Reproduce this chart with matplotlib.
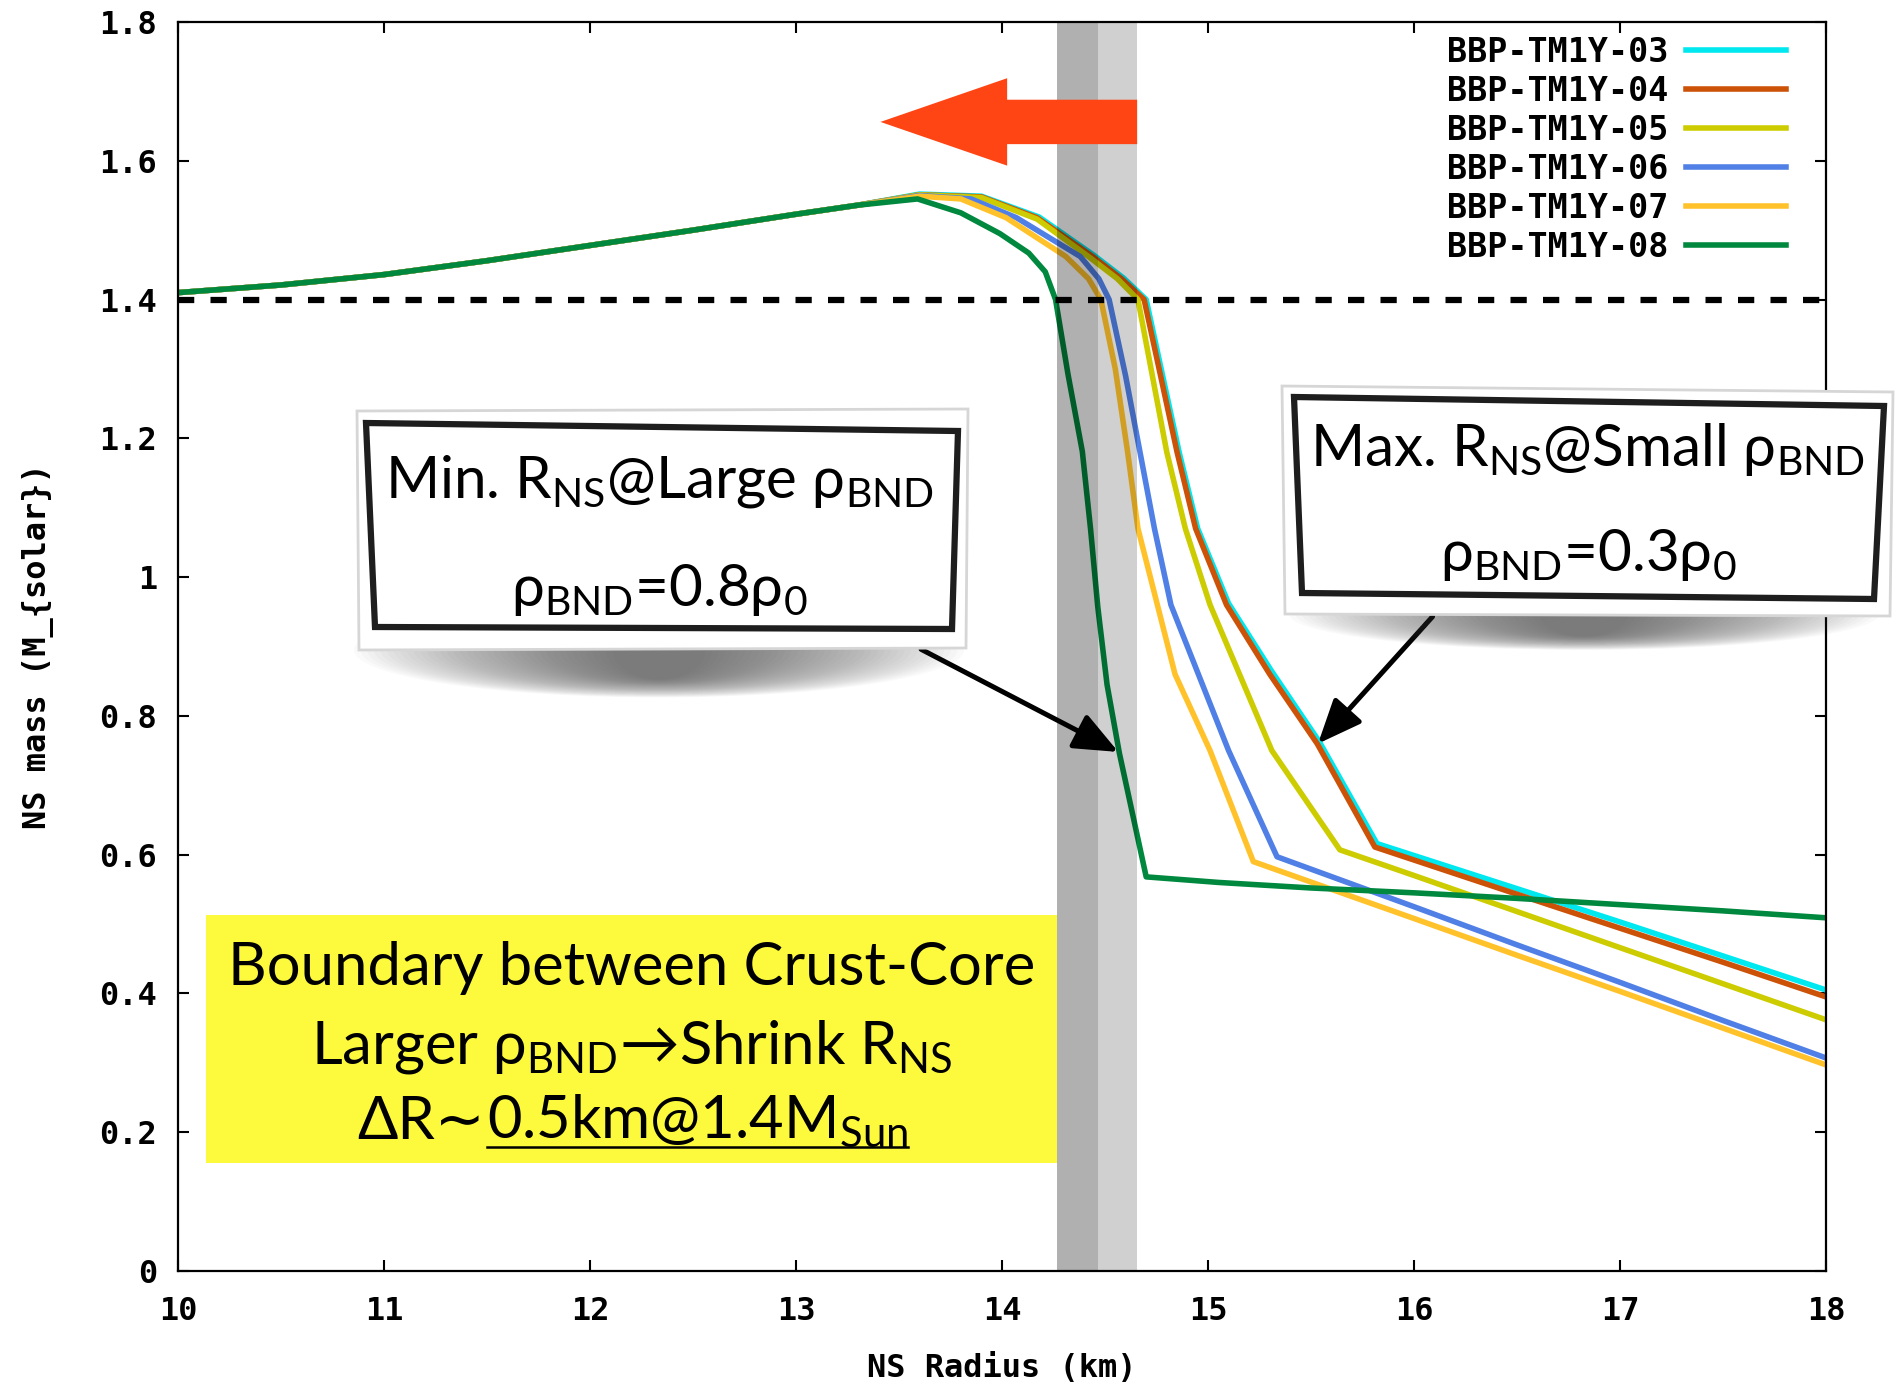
import matplotlib
matplotlib.use('Agg')
import matplotlib.pyplot as plt
from matplotlib.patches import Polygon, Ellipse, Rectangle
from matplotlib.ticker import FuncFormatter

# mass-radius curves (R in km, M in M_solar)
r_rise = [10.0, 10.5, 11.0, 11.5, 12.0, 12.5, 13.0, 13.3]
m_rise = [1.410, 1.421, 1.436, 1.456, 1.478, 1.500, 1.523, 1.536]

r_03 = r_rise + [13.6, 13.9, 14.18, 14.45, 14.59, 14.70, 14.78, 14.86, 14.95, 15.10, 15.31, 15.54, 15.82, 16.5, 17.0, 17.5, 18.0]
m_03 = m_rise + [1.552, 1.549, 1.519, 1.463, 1.431, 1.400, 1.290, 1.180, 1.070, 0.962, 0.864, 0.763, 0.616, 0.551, 0.503, 0.454, 0.405]

r_04 = r_rise + [13.6, 13.9, 14.17, 14.44, 14.58, 14.69, 14.77, 14.85, 14.94, 15.09, 15.30, 15.53, 15.81, 16.5, 17.0, 17.5, 18.0]
m_04 = m_rise + [1.551, 1.548, 1.518, 1.462, 1.430, 1.400, 1.290, 1.180, 1.070, 0.960, 0.860, 0.760, 0.611, 0.543, 0.494, 0.445, 0.395]

r_05 = r_rise + [13.6, 13.9, 14.17, 14.42, 14.56, 14.66, 14.73, 14.80, 14.89, 15.01, 15.31, 15.64, 16.0, 16.5, 17.0, 17.5, 18.0]
m_05 = m_rise + [1.551, 1.547, 1.516, 1.462, 1.430, 1.400, 1.290, 1.180, 1.070, 0.960, 0.750, 0.607, 0.570, 0.518, 0.466, 0.414, 0.362]

r_06 = r_rise + [13.6, 13.85, 14.07, 14.38, 14.47, 14.52, 14.60, 14.67, 14.74, 14.82, 15.10, 15.335, 16.0, 16.5, 17.0, 17.5, 18.0]
m_06 = m_rise + [1.550, 1.545, 1.518, 1.462, 1.430, 1.400, 1.290, 1.180, 1.070, 0.960, 0.750, 0.597, 0.525, 0.470, 0.416, 0.361, 0.307]

r_07 = r_rise + [13.6, 13.8, 14.02, 14.31, 14.42, 14.48, 14.55, 14.61, 14.66, 14.75, 14.84, 15.01, 15.22, 15.6, 16.0, 16.5, 17.0, 17.5, 18.0]
m_07 = m_rise + [1.549, 1.545, 1.518, 1.462, 1.430, 1.400, 1.300, 1.180, 1.070, 0.965, 0.860, 0.750, 0.590, 0.550, 0.508, 0.455, 0.403, 0.350, 0.297]

r_08 = r_rise + [13.59, 13.8, 13.99, 14.13, 14.21, 14.26, 14.32, 14.39, 14.43, 14.465, 14.51, 14.57, 14.70, 15.05, 15.5, 16.0, 16.5, 17.0, 17.5, 18.0]
m_08 = m_rise + [1.545, 1.525, 1.495, 1.467, 1.440, 1.400, 1.293, 1.181, 1.069, 0.957, 0.845, 0.746, 0.568, 0.560, 0.552, 0.545, 0.537, 0.528, 0.519, 0.509]

labels = ['BBP-TM1Y-03', 'BBP-TM1Y-04', 'BBP-TM1Y-05', 'BBP-TM1Y-06', 'BBP-TM1Y-07', 'BBP-TM1Y-08']
radii = [r_03, r_04, r_05, r_06, r_07, r_08]
masses = [m_03, m_04, m_05, m_06, m_07, m_08]
colors = ['#00e8ef', '#cc5208', '#cccc00', '#5080e6', '#ffc22a', '#00883e']

x_ticks = [10, 11, 12, 13, 14, 15, 16, 17, 18]
y_ticks = [0, 0.2, 0.4, 0.6, 0.8, 1.0, 1.2, 1.4, 1.6, 1.8]

m_canonical = 1.4
band_dark = (14.268, 14.465)    # crust-core boundary band, large rho_BND
band_light = (14.465, 14.656)   # small rho_BND

plt.rcParams['mathtext.fontset'] = 'custom'
plt.rcParams['mathtext.rm'] = 'Lato'
plt.rcParams['mathtext.it'] = 'Lato:italic'
plt.rcParams['mathtext.bf'] = 'Lato:bold'

W, H = 1896, 1384
fig = plt.figure(figsize=(W / 100, H / 100), dpi=100)
ax = fig.add_axes([178 / W, 1 - 1271 / H, 1648 / W, 1249 / H])

for r, m, c, lab in zip(radii, masses, colors, labels):
    ax.plot(r, m, color=c, lw=4, label=lab, zorder=2)

ax.axhline(m_canonical, color='k', lw=4.5, ls=(0, (2.6, 2.6)), zorder=3)
ax.axvspan(*band_dark, color='k', alpha=0.31, lw=0, zorder=4)
ax.axvspan(*band_light, color='k', alpha=0.185, lw=0, zorder=4)

# big red arrow pointing to smaller radius
ax.arrow(band_light[1], 1.656, 13.41 - band_light[1], 0, width=0.064, head_width=0.126,
         head_length=0.615, length_includes_head=True, color='#ff4514', lw=0, zorder=6)

# yellow note box
ax.add_patch(Rectangle((10.136, 0.156), band_dark[0] - 10.136, 0.357,
                       facecolor='#fdf93c', edgecolor='none', zorder=5))

arw = dict(arrowstyle='-|>,head_length=0.9,head_width=0.38', mutation_scale=30,
           lw=3.6, color='k', shrinkA=0, shrinkB=0)
ax.annotate('', xy=(14.565, 0.748), xytext=(13.607, 0.896), arrowprops=arw, zorder=7)
ax.annotate('', xy=(15.534, 0.760), xytext=(16.09, 0.943), arrowprops=arw, zorder=7)

ax.set_xlim(10, 18)
ax.set_ylim(0, 1.8)
ax.set_xticks(x_ticks)
ax.set_yticks(y_ticks)
ax.yaxis.set_major_formatter(FuncFormatter(lambda v, p: '%g' % v))
mono = {'family': 'DejaVu Sans Mono', 'weight': 'bold', 'size': 23}
ax.tick_params(direction='in', length=8, width=1.5, top=True, right=True)
ax.tick_params(axis='x', pad=18)
ax.tick_params(axis='y', pad=15)
for t in ax.get_xticklabels() + ax.get_yticklabels():
    t.set_fontproperties(mono)
for s in ax.spines.values():
    s.set_linewidth(1.6)

ax.set_xlabel('NS Radius (km)', fontdict=mono)
ax.set_ylabel('NS mass (M_{solar})', fontdict=mono)
ax.xaxis.set_label_coords(0.5, -0.066)
ax.yaxis.set_label_coords(-0.075, 0.5)

ax.legend(loc='upper right', bbox_to_anchor=(0.976, 0.989), frameon=False, markerfirst=False,
          handlelength=3.0, handletextpad=0.55, labelspacing=0.18, borderaxespad=0, borderpad=0,
          prop={'family': 'DejaVu Sans Mono', 'weight': 'bold', 'size': 24})

# overlay in figure pixels for the pasted note boxes
ov = fig.add_axes([0, 0, 1, 1], zorder=10)
ov.set_xlim(0, W)
ov.set_ylim(H, 0)
ov.axis('off')
ov.patch.set_alpha(0)


def shadow(cx, cy, w, h):
    n = 40
    for k in range(n):
        f = 1 - k / (n + 6)
        ov.add_patch(Ellipse((cx, cy), w * f, h * (0.55 + 0.45 * f), facecolor='#3a3a3a',
                             alpha=0.025, lw=0))


def note(paper, frame, lines, cx, baselines, size=42):
    ov.add_patch(Polygon(paper, closed=True, facecolor='white', edgecolor='#d6d6d6', lw=2))
    ov.add_patch(Polygon(frame, closed=True, facecolor='white', edgecolor='#1e1e1e', lw=4.5))
    for s, y in zip(lines, baselines):
        ov.text(cx, y, s, ha='center', va='baseline', fontsize=size, family='Lato')


shadow(659, 650, 610, 95)
note([(357, 411), (968, 409), (966, 648), (359, 650)],
     [(366, 423), (958, 431), (952, 629), (375, 627)],
     ['Min. R$_\\mathrm{NS}$@Large ρ$_\\mathrm{BND}$', 'ρ$_\\mathrm{BND}$=0.8ρ$_\\mathrm{0}$'],
     659, [497, 606])

shadow(1584, 614, 590, 72)
note([(1282, 386), (1893, 392), (1890, 616), (1285, 614)],
     [(1294, 397), (1884, 406), (1874, 599), (1302, 593)],
     ['Max. R$_\\mathrm{NS}$@Small ρ$_\\mathrm{BND}$', 'ρ$_\\mathrm{BND}$=0.3ρ$_\\mathrm{0}$'],
     1588, [466, 571])

# yellow box text
ov.text(632, 985, 'Boundary between Crust-Core', ha='center', va='baseline', fontsize=43, family='Lato')
ov.text(632, 1064, 'Larger ρ$_\\mathrm{BND}$→Shrink R$_\\mathrm{NS}$', ha='center',
        va='baseline', fontsize=43, family='Lato')
rend = fig.canvas.get_renderer()
ta = ov.text(0, 1139, 'ΔR∼', ha='left', va='baseline', fontsize=43, family=['Lato', 'DejaVu Sans'])
tb = ov.text(0, 1139, '0.5km@1.4M$_\\mathrm{Sun}$', ha='left', va='baseline', fontsize=43, family='Lato')
wa = ta.get_window_extent(rend).width
wb = tb.get_window_extent(rend).width
x0 = 632 - (wa + wb) / 2
ta.set_position((x0, 1139))
tb.set_position((x0 + wa + 2, 1139))
ov.plot([x0 + wa + 2, x0 + wa + 2 + wb], [1147, 1147], color='k', lw=1.8)

fig.savefig('out.png', dpi=100)
